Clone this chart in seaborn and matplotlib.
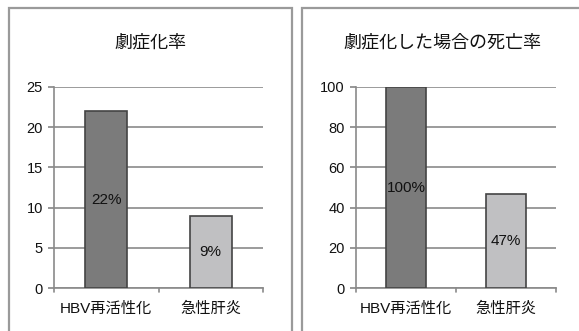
import pandas as pd
import seaborn as sns
import matplotlib.pyplot as plt
from matplotlib.patches import Rectangle

sns.set_theme(style="white")
plt.rcParams['font.family'] = ['Liberation Sans', 'Noto Sans CJK JP', 'DejaVu Sans']

# データ
categories = ['HBV再活性化', '急性肝炎']
fulminant_rate = [22, 9]
death_rate = [100, 47]
titles = ['劇症化率', '劇症化した場合の死亡率']
ymax = [25, 100]
ystep = [5, 20]

bar_colors = ['#7b7b7b', '#c0c0c2']
W, H = 579, 331

fig = plt.figure(figsize=(W / 100, H / 100), dpi=100)

# パネル枠
fig.patches.append(Rectangle((9 / W, -0.05), (292 - 9) / W, 1.05 - 8 / H,
                             transform=fig.transFigure, fill=False,
                             edgecolor='#9a9a9a', linewidth=1.6))
fig.patches.append(Rectangle((302 / W, -0.05), 0.5, 1.05 - 8 / H,
                             transform=fig.transFigure, fill=False,
                             edgecolor='#9a9a9a', linewidth=1.6))

axes_px = [(54, 263), (356, 556)]
title_x = [150, 442]

for i, vals in enumerate([fulminant_rate, death_rate]):
    x0, x1 = axes_px[i]
    ax = fig.add_axes([x0 / W, (H - 288) / H, (x1 - x0) / W, (288 - 87) / H])
    df = pd.DataFrame({'cat': categories, 'val': vals})
    sns.barplot(data=df, x='cat', y='val', hue='cat', palette=bar_colors,
                width=0.4, edgecolor='#444444', linewidth=1.2,
                legend=False, ax=ax, zorder=3)
    ax.set_ylim(0, ymax[i])
    ax.set_xlim(-0.5, 1.5)
    ax.set_yticks(range(0, ymax[i] + 1, ystep[i]))
    ax.set_xlabel('')
    ax.set_ylabel('')
    ax.yaxis.grid(True, color='#8a8a8a', linewidth=1.2, zorder=0)
    ax.set_axisbelow(True)
    for s in ['top', 'right']:
        ax.spines[s].set_visible(False)
    for s in ['left', 'bottom']:
        ax.spines[s].set_color('#8a8a8a')
        ax.spines[s].set_linewidth(1.2)
    ax.tick_params(axis='y', labelsize=10.5, length=4, color='#8a8a8a',
                   left=True, pad=4, labelcolor='#111111')
    ax.tick_params(axis='x', labelsize=11, length=0, pad=10,
                   labelcolor='#111111')
    # x軸の区切り目盛
    for xb in [-0.5, 0.5, 1.5]:
        ax.plot([xb, xb], [0, -0.02 * ymax[i]], color='#8a8a8a',
                linewidth=1.2, clip_on=False)
    for j, v in enumerate(vals):
        ax.text(j, v / 2, f'{v}%', ha='center', va='center', fontsize=11,
                color='#111111', zorder=4)
    fig.text(title_x[i] / W, 1 - 43 / H, titles[i], ha='center', va='center',
             fontsize=13, color='#111111')

fig.savefig('out.png', dpi=100)
